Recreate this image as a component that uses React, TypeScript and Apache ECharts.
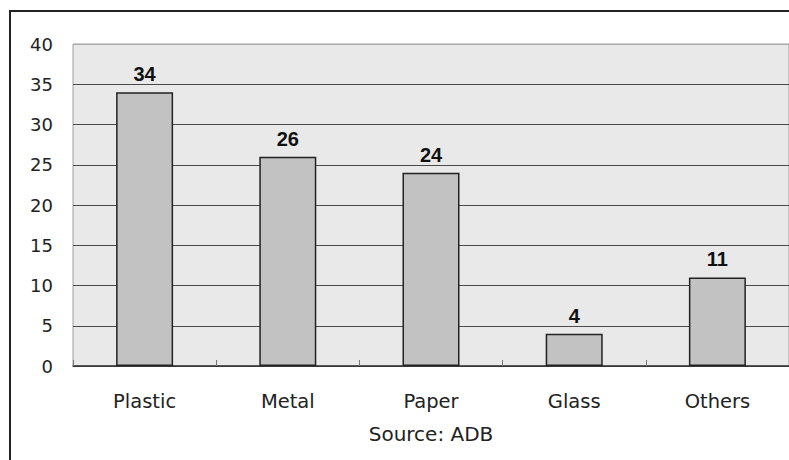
import React, { useEffect, useRef } from "react";
import * as echarts from "echarts";

const categories = ["Plastic", "Metal", "Paper", "Glass", "Others"];
const values = [34, 26, 24, 4, 11];
const yTicks = [0, 5, 10, 15, 20, 25, 30, 35, 40];
const sourceText = "Source: ADB";

const FONT = "'DejaVu Sans', sans-serif";
const LABEL_FONT = "'Liberation Sans', Arial, sans-serif";

export default function App() {
  const ref = useRef<HTMLDivElement>(null);
  useEffect(() => {
    if (!ref.current) return;
    const chart = echarts.init(ref.current, undefined, { renderer: "svg" });
    const splitColors = yTicks.map((t, i) => (i === yTicks.length - 1 ? "#aaaaaa" : "#4a4a4a"));
    chart.setOption({
      animation: false,
      backgroundColor: "#ffffff",
      textStyle: { fontFamily: FONT },
      graphic: [
        {
          type: "rect",
          shape: { x: 10, y: 11, width: 820, height: 520 },
          style: { fill: "none", stroke: "#222", lineWidth: 2 },
          z: 100,
          silent: true,
        },
      ],
      grid: {
        left: 73,
        top: 44,
        right: -1,
        bottom: 94,
        show: true,
        backgroundColor: "#e9e9e9",
        borderColor: "#a0a0a0",
        borderWidth: 1,
      },
      xAxis: {
        type: "category",
        data: categories,
        name: sourceText,
        nameLocation: "middle",
        nameGap: 58,
        nameTextStyle: { color: "#222", fontSize: 20, fontFamily: FONT },
        axisLine: { show: true, lineStyle: { color: "#333", width: 1.5 } },
        axisTick: { show: true, inside: true, length: 6, lineStyle: { color: "#777" } },
        axisLabel: { color: "#222", fontSize: 19.5, margin: 25, fontFamily: FONT },
        splitLine: { show: false },
      },
      yAxis: {
        type: "value",
        min: 0,
        max: 40,
        interval: 5,
        axisLine: { show: false },
        axisTick: { show: false },
        axisLabel: { color: "#222", fontSize: 18, margin: 20, fontFamily: FONT },
        splitLine: { show: true, lineStyle: { color: splitColors, width: 1 } },
      },
      series: [
        {
          type: "bar",
          data: values,
          barWidth: 57,
          itemStyle: { color: "#c2c2c2", borderColor: "#222", borderWidth: 1.5 },
          label: {
            show: true,
            position: "top",
            distance: 8,
            color: "#111",
            fontSize: 20,
            fontWeight: "bold",
            fontFamily: LABEL_FONT,
          },
        },
      ],
    });
    return () => chart.dispose();
  }, []);
  return <div ref={ref} style={{ width: 789, height: 460, position: "absolute", left: 0, top: 0 }} />;
}
